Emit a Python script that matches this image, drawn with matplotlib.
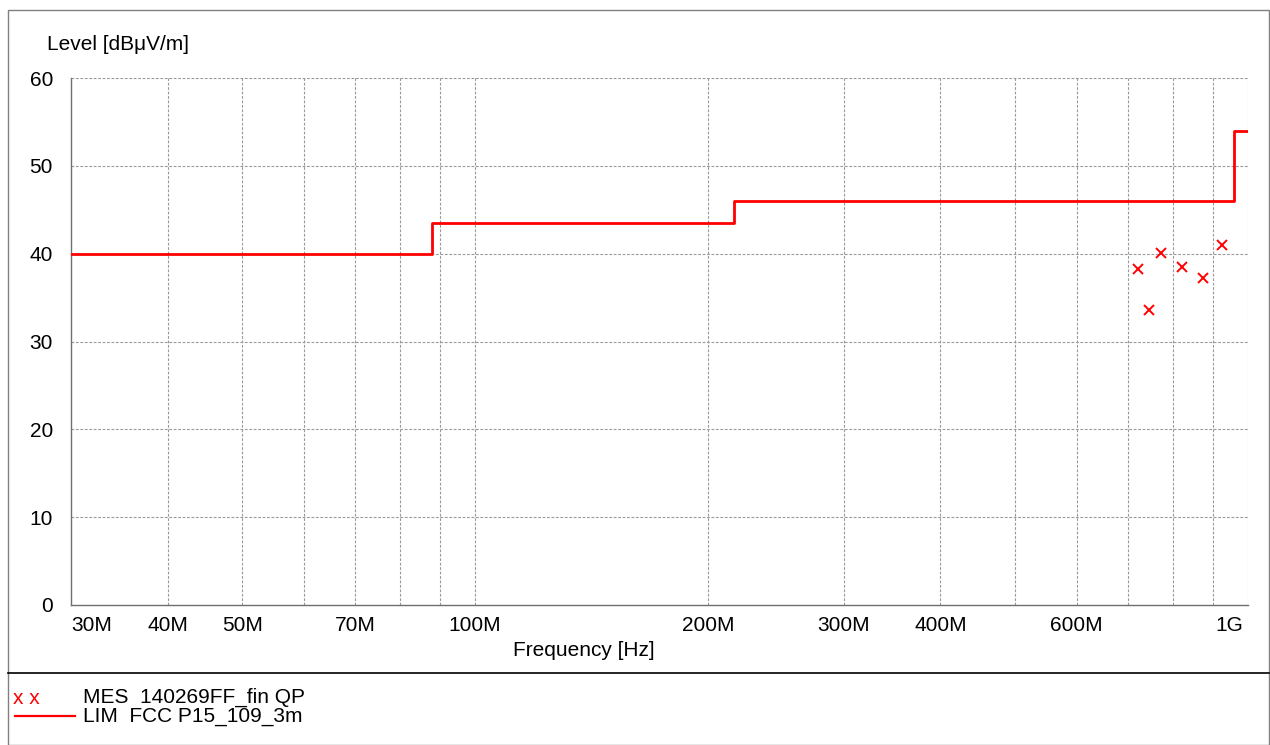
"""
EMC radiated emission plot: QP measurements against the FCC Part 15.109 3 m limit.
"""
import matplotlib
matplotlib.use("Agg")
import matplotlib.pyplot as plt
from matplotlib.patches import Rectangle
from matplotlib.lines import Line2D
from matplotlib.transforms import ScaledTranslation

plt.rcParams['font.family'] = ['Liberation Sans', 'DejaVu Sans']

# Limit line FCC P15_109_3m (step edges in Hz, level in dBuV/m)
limit_freq = [30e6, 88e6, 216e6, 960e6, 1000e6]
limit_level = [40.0, 43.5, 46.0, 54.0, 54.0]

# Final QP measurements
mes_freq = [720e6, 744e6, 771e6, 821e6, 874e6, 925e6]
mes_level = [38.3, 33.6, 40.1, 38.5, 37.2, 41.0]

x_ticks = [30e6, 40e6, 50e6, 70e6, 100e6, 200e6, 300e6, 400e6, 600e6, 1e9]
x_tick_labels = ['30M', '40M', '50M', '70M', '100M', '200M', '300M', '400M', '600M', '1G']
x_minor = [60e6, 80e6, 90e6, 500e6, 700e6, 800e6, 900e6]
y_ticks = [0, 10, 20, 30, 40, 50, 60]

FS = 15
W, H = 1270, 745
fig = plt.figure(figsize=(W / 100, H / 100), dpi=100)
ax = fig.add_axes([71 / W, 1 - 605 / H, (1248 - 71) / W, (605 - 78) / H])

ax.set_xscale('log')
ax.set_xlim(30e6, 1e9)
ax.set_ylim(0, 60)

grid_kw = dict(color='#999999', linestyle=(0, (2.5, 1.5)), linewidth=0.8)
for f in x_ticks[1:] + x_minor:
    ax.axvline(f, zorder=1, **grid_kw)
for y in y_ticks[1:]:
    ax.axhline(y, zorder=1, **grid_kw)

ax.step(limit_freq, limit_level, where='post', color='#ff0000', linewidth=2, zorder=3)
ax.plot(mes_freq, mes_level, linestyle='none', marker='x', color='#ff0000',
        markersize=7, markeredgewidth=1.4, zorder=4)

ax.set_xticks(x_ticks)
ax.set_xticklabels(x_tick_labels)
ax.xaxis.set_minor_locator(matplotlib.ticker.NullLocator())
ax.set_yticks(y_ticks)
ax.tick_params(axis='both', length=0, labelsize=FS)
ax.tick_params(axis='x', pad=8)
ax.tick_params(axis='y', pad=13)
labels = ax.get_xticklabels()
labels[0].set_ha('left')
labels[-1].set_ha('right')
labels[-1].set_transform(labels[-1].get_transform()
                         + ScaledTranslation(-5 / 100, 0, fig.dpi_scale_trans))

for side in ['top', 'right']:
    ax.spines[side].set_visible(False)
for side in ['left', 'bottom']:
    ax.spines[side].set_color('#707070')
    ax.spines[side].set_linewidth(1.0)

fig.text(47 / W, 1 - 44 / H, 'Level [dB\u03bcV/m]', ha='left', va='center', fontsize=FS)
fig.text(584 / W, 1 - 650 / H, 'Frequency [Hz]', ha='center', va='center', fontsize=FS)

# Outer frame and legend separator
fig.add_artist(Rectangle((8 / W, 0), (1269 - 8) / W, (745 - 10) / H,
                         transform=fig.transFigure, fill=False,
                         edgecolor='#808080', linewidth=1.0))
fig.add_artist(Line2D([8 / W, 1269 / W], [1 - 673 / H, 1 - 673 / H],
                      transform=fig.transFigure, color='black', linewidth=1.2))

# Legend
fig.text(13 / W, 1 - 698 / H, 'x x', color='#ff0000', ha='left', va='center', fontsize=FS)
fig.add_artist(Line2D([15 / W, 75 / W], [1 - 716 / H, 1 - 716 / H],
                      transform=fig.transFigure, color='#ff0000', linewidth=1.6))
fig.text(83 / W, 1 - 697 / H, 'MES  140269FF_fin QP', ha='left', va='center', fontsize=FS)
fig.text(83 / W, 1 - 717 / H, 'LIM  FCC P15_109_3m', ha='left', va='center', fontsize=FS)

fig.savefig('out.png', dpi=100)
plt.close(fig)
